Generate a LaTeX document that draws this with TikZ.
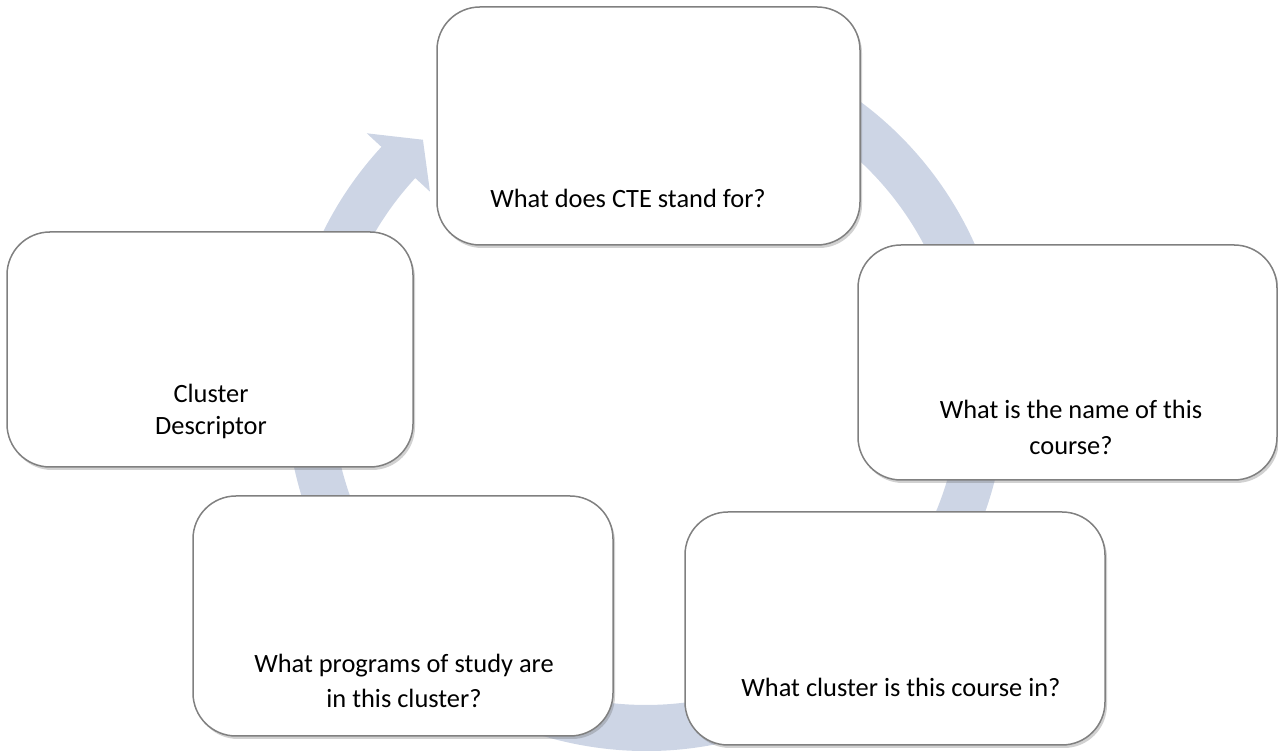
\documentclass[tikz,border=0pt]{standalone}
\usepackage{fontspec}
\setmainfont{Carlito}
\usetikzlibrary{shadows}
\definecolor{ringc}{RGB}{205,213,229}
\definecolor{boxline}{RGB}{128,128,128}
\tikzset{
  qbox/.style={draw=boxline, line width=1.5pt, fill=white, rounded corners=43pt, inner sep=0pt,
    drop shadow={shadow xshift=2pt, shadow yshift=-3pt, opacity=0.3, fill=black!60}},
  qtext/.style={anchor=base, align=center, inner sep=0pt, text=black,
    font=\fontsize{26.4}{#1}\selectfont},
  qtext/.default=34
}
\begin{document}
\begin{tikzpicture}[x=1pt,y=1pt]
\useasboundingbox (0,0) rectangle (1278,751);
% circular arrow ring
\begin{scope}[shift={(646,360)}]
  \fill[ringc] (80:360) arc[start angle=80, end angle=-222.7, radius=360]
    -- (-222.7:380) -- (-228.4:336) -- (-222.7:294) -- (-222.7:314)
    arc[start angle=-222.7, end angle=80, radius=314] -- cycle;
\end{scope}
% boxes
\node[qbox, minimum width=423pt, minimum height=238pt] (top) at (648.5,625) {};
\node[qbox, minimum width=419pt, minimum height=235pt] (right) at (1067.5,388.5) {};
\node[qbox, minimum width=420pt, minimum height=233pt] (bright) at (895,122.5) {};
\node[qbox, minimum width=420pt, minimum height=240pt] (bleft) at (403,135) {};
\node[qbox, minimum width=406pt, minimum height=235pt] (left) at (210,401.5) {};
% texts (base anchor = baseline of the last line)
\node[qtext] (ttop) at (628,543) {What does CTE stand for?};
\node[qtext=36] (tright) at (1071,296) {What is the name of this\\course?};
\node[qtext] (tbright) at (901,54) {What cluster is this course in?};
\node[qtext=35] (tbleft) at (404,43) {What programs of study are\\in this cluster?};
\node[qtext=32] (tleft) at (211,316) {Cluster\\Descriptor};
\end{tikzpicture}
\end{document}
